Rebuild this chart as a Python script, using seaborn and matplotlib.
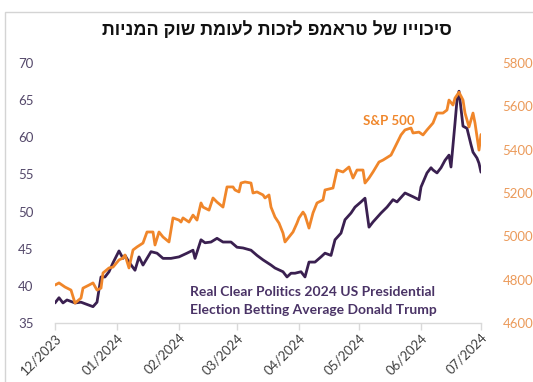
import matplotlib
matplotlib.use("Agg")
import matplotlib.pyplot as plt
import matplotlib.dates as mdates
import seaborn as sns
import pandas as pd
from matplotlib.patches import Rectangle

# ---------------- data ----------------
trump_dates = ["2023-12-01", "2023-12-03", "2023-12-05", "2023-12-07", "2023-12-11", "2023-12-14",
               "2023-12-17", "2023-12-20", "2023-12-22", "2023-12-24", "2023-12-26", "2023-12-28",
               "2023-12-30", "2024-01-02", "2024-01-04", "2024-01-05", "2024-01-07", "2024-01-10",
               "2024-01-12", "2024-01-14", "2024-01-16", "2024-01-18", "2024-01-21", "2024-01-24",
               "2024-01-28", "2024-02-01", "2024-02-05", "2024-02-08", "2024-02-09", "2024-02-12",
               "2024-02-14", "2024-02-17", "2024-02-20", "2024-02-23", "2024-02-27", "2024-03-01",
               "2024-03-04", "2024-03-08", "2024-03-11", "2024-03-14", "2024-03-18", "2024-03-20",
               "2024-03-24", "2024-03-26", "2024-03-28", "2024-03-30", "2024-04-02", "2024-04-04",
               "2024-04-06", "2024-04-09", "2024-04-12", "2024-04-14", "2024-04-17", "2024-04-19",
               "2024-04-22", "2024-04-24", "2024-04-27", "2024-04-29", "2024-05-02", "2024-05-04",
               "2024-05-06", "2024-05-08", "2024-05-12", "2024-05-15", "2024-05-18", "2024-05-20",
               "2024-05-24", "2024-05-28", "2024-05-31", "2024-06-01", "2024-06-04", "2024-06-06",
               "2024-06-07", "2024-06-09", "2024-06-11", "2024-06-13", "2024-06-15", "2024-06-16",
               "2024-06-18", "2024-06-19", "2024-06-20", "2024-06-22", "2024-06-24", "2024-06-26",
               "2024-06-27", "2024-06-29", "2024-06-30", "2024-07-01"]
trump_values = [37.7, 38.4, 37.7, 38.1, 37.7, 37.8,
                37.5, 37.2, 37.8, 41.2, 41.2, 41.9,
                43.1, 44.7, 43.7, 44.1, 43.2, 42.1,
                43.9, 42.8, 43.7, 44.6, 44.4, 43.7,
                43.7, 43.9, 44.4, 44.8, 43.7, 46.2,
                45.8, 45.9, 46.4, 45.9, 45.9, 45.2,
                45.1, 44.8, 44.1, 43.5, 42.8, 42.4,
                41.9, 41.2, 41.7, 41.7, 41.9, 41.2,
                43.2, 43.2, 43.9, 44.4, 44.1, 46.2,
                47.1, 48.9, 49.8, 50.6, 51.3, 51.8,
                47.9, 48.6, 49.8, 50.6, 51.6, 51.3,
                52.5, 52.0, 51.6, 53.3, 55.2, 55.9,
                55.6, 55.2, 55.9, 56.9, 57.6, 56.0,
                61.9, 65.0, 66.2, 61.5, 61.2, 59.0,
                58.0, 57.2, 56.5, 55.3]

spx_dates = ["2023-12-01", "2023-12-03", "2023-12-06", "2023-12-09", "2023-12-11", "2023-12-14",
             "2023-12-15", "2023-12-18", "2023-12-20", "2023-12-22", "2023-12-24", "2023-12-25",
             "2023-12-28", "2023-12-30", "2024-01-02", "2024-01-04", "2024-01-05", "2024-01-07",
             "2024-01-09", "2024-01-11", "2024-01-14", "2024-01-16", "2024-01-19", "2024-01-20",
             "2024-01-22", "2024-01-24", "2024-01-27", "2024-01-29", "2024-02-01", "2024-02-02",
             "2024-02-03", "2024-02-06", "2024-02-08", "2024-02-10", "2024-02-12", "2024-02-13",
             "2024-02-16", "2024-02-18", "2024-02-20", "2024-02-23", "2024-02-25", "2024-02-28",
             "2024-02-29", "2024-03-02", "2024-03-03", "2024-03-05", "2024-03-08", "2024-03-09",
             "2024-03-11", "2024-03-14", "2024-03-15", "2024-03-17", "2024-03-18", "2024-03-20",
             "2024-03-22", "2024-03-24", "2024-03-25", "2024-03-27", "2024-03-29", "2024-03-31",
             "2024-04-01", "2024-04-03", "2024-04-04", "2024-04-06", "2024-04-08", "2024-04-10",
             "2024-04-13", "2024-04-14", "2024-04-18", "2024-04-20", "2024-04-23", "2024-04-26",
             "2024-04-28", "2024-04-30", "2024-05-03", "2024-05-04", "2024-05-06", "2024-05-08",
             "2024-05-11", "2024-05-13", "2024-05-17", "2024-05-19", "2024-05-22", "2024-05-24",
             "2024-05-27", "2024-05-28", "2024-05-31", "2024-06-02", "2024-06-04", "2024-06-07",
             "2024-06-09", "2024-06-12", "2024-06-14", "2024-06-15", "2024-06-17", "2024-06-18",
             "2024-06-20", "2024-06-22", "2024-06-23", "2024-06-25", "2024-06-27", "2024-06-28",
             "2024-06-30", "2024-07-01"]
spx_values = [4775, 4785, 4766, 4752, 4692, 4715,
              4761, 4775, 4785, 4752, 4761, 4831,
              4854, 4858, 4891, 4900, 4914, 4854,
              4937, 4951, 4969, 5020, 5020, 4960,
              5020, 4997, 4974, 5085, 5075, 5066,
              5085, 5066, 5098, 5075, 5154, 5135,
              5121, 5177, 5158, 5135, 5228, 5228,
              5214, 5205, 5246, 5251, 5246, 5200,
              5205, 5191, 5177, 5191, 5135, 5089,
              5061, 5015, 4974, 4997, 5020, 5061,
              5085, 5112, 5098, 5038, 5108, 5154,
              5168, 5214, 5223, 5306, 5297, 5320,
              5269, 5306, 5306, 5246, 5269, 5297,
              5343, 5352, 5375, 5412, 5468, 5491,
              5500, 5477, 5481, 5468, 5491, 5523,
              5569, 5569, 5583, 5629, 5606, 5638,
              5665, 5629, 5569, 5505, 5569, 5523,
              5398, 5470]

month_ticks = ["2023-12-01", "2024-01-01", "2024-02-01", "2024-03-01",
               "2024-04-01", "2024-05-01", "2024-06-01", "2024-07-01"]
left_ticks = [35, 40, 45, 50, 55, 60, 65, 70]
right_ticks = [4600, 4800, 5000, 5200, 5400, 5600, 5800]

title_text = "סיכוייו של טראמפ לזכות לעומת שוק המניות"
trump_label = ["Real Clear Politics 2024 US Presidential",
               "Election Betting Average Donald Trump"]
spx_label = "S&P 500"

# ---------------- style ----------------
PURPLE = "#3a2050"
ORANGE = "#f0862a"
LEFT_TICK_C = "#54486a"
RIGHT_TICK_C = "#eb9a5a"
LABEL_PURPLE = "#4a3366"

sns.set_style("white")
plt.rcParams["font.family"] = ["Lato", "DejaVu Sans"]

W, H = 533, 382
fig = plt.figure(figsize=(W / 100, H / 100), dpi=100)
fig.patch.set_facecolor("white")

def fx(px):
    return px / W

def fy(py):
    return 1 - py / H

ax = fig.add_axes([fx(55), fy(323), fx(481) - fx(55), fy(63) - fy(323)])
ax2 = ax.twinx()

df_t = pd.DataFrame({"date": pd.to_datetime(trump_dates), "value": trump_values})
df_s = pd.DataFrame({"date": pd.to_datetime(spx_dates), "value": spx_values})

sns.lineplot(data=df_t, x="date", y="value", ax=ax, color=PURPLE, linewidth=2.0)
sns.lineplot(data=df_s, x="date", y="value", ax=ax2, color=ORANGE, linewidth=2.0)

ax.set_xlim(pd.Timestamp(month_ticks[0]), pd.Timestamp(month_ticks[-1]))
ax.set_ylim(left_ticks[0], left_ticks[-1])
ax2.set_ylim(right_ticks[0], right_ticks[-1])
ax.set_yticks(left_ticks)
ax2.set_yticks(right_ticks)
ax.set_xticks(pd.to_datetime(month_ticks))
ax.xaxis.set_major_formatter(mdates.DateFormatter("%m/%Y"))

for a in (ax, ax2):
    a.set_xlabel("")
    a.set_ylabel("")
    for s in a.spines.values():
        s.set_visible(False)
ax.spines["bottom"].set_visible(True)
ax.spines["bottom"].set_color("#d9d9d9")
ax.spines["bottom"].set_linewidth(1.0)

ax.tick_params(axis="x", bottom=True, length=5, width=1, color="#d9d9d9",
               direction="out", labelsize=9.5, labelcolor="#404040", pad=1)
ax.tick_params(axis="y", left=False, labelsize=9.5, labelcolor=LEFT_TICK_C, pad=12)
ax2.tick_params(axis="y", right=False, labelsize=9.5, labelcolor=RIGHT_TICK_C, pad=12)

for lbl in ax.get_xticklabels():
    lbl.set_rotation(45)
    lbl.set_ha("right")
    lbl.set_rotation_mode("anchor")

# title (Hebrew, reversed for visual right-to-left order)
fig.text(fx(277), fy(30), title_text[::-1], ha="center", va="center",
         fontsize=13, fontweight="bold", color="#111111",
         family=["Liberation Sans", "DejaVu Sans"])

# series labels
fig.text(fx(363), fy(121), spx_label, ha="left", va="center",
         fontsize=9.5, fontweight="bold", color=ORANGE)
fig.text(fx(190), fy(292), trump_label[0], ha="left", va="center",
         fontsize=10, fontweight="bold", color=LABEL_PURPLE)
fig.text(fx(190), fy(310), trump_label[1], ha="left", va="center",
         fontsize=10, fontweight="bold", color=LABEL_PURPLE)

# frame border
fig.patches.append(Rectangle((fx(5), -0.1), 1.2, fy(12) + 0.1, transform=fig.transFigure,
                             fill=False, edgecolor="#d4d4d4", linewidth=1.0))

fig.savefig("out.png", dpi=100, facecolor="white")
